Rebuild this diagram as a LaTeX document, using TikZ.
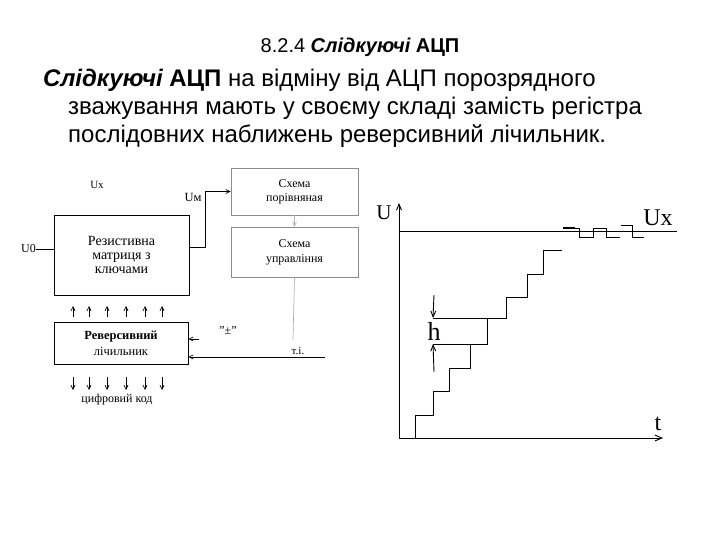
\documentclass[tikz,border=0pt]{standalone}
\usepackage{fontspec}
\setmainfont{Liberation Serif}
\newfontfamily\arial{Liberation Sans}
\usetikzlibrary{arrows.meta}
\begin{document}
\begin{tikzpicture}[x=1pt,y=-1pt,
  blk/.style={draw=black,line width=0.8pt,inner sep=0pt,align=center},
  gblk/.style={draw=black!45,line width=0.8pt,inner sep=0pt,align=center},
  lbl/.style={inner sep=0pt},
  wire/.style={line width=0.7pt},
  gwire/.style={line width=0.7pt,draw=black!30},
  tip/.style={-{Straight Barb[length=4pt,width=4pt]}},
  ln/.style={line width=0.9pt},
  para/.style={lbl,anchor=base west,font=\arial\fontsize{24}{28}\selectfont}
]
\useasboundingbox (0,0) rectangle (720,540);
% title and paragraph
\node[lbl,anchor=base,font=\arial\fontsize{20}{24}\selectfont] (title) at (360,53) {8.2.4 {\bfseries\itshape Слідкуючі} {\bfseries АЦП}};
\node[para] (p1) at (43,87) {{\bfseries\itshape Слідкуючі} {\bfseries АЦП} на відміну від АЦП порозрядного};
\node[para] (p2) at (68,115) {зважування мають у своєму складі замість регістра};
\node[para] (p3) at (68,143) {послідовних наближень реверсивний лічильник.};
% block diagram
\node[blk,minimum width=135pt,minimum height=80pt,font=\fontsize{14}{14}\selectfont] (mat) at (121.5,255) {Резистивна\\ матриця з\\ ключами};
\draw[line width=1.6pt] (mat.south west) -- (mat.south east);
\node[gblk,minimum width=127pt,minimum height=47pt,font=\fontsize{12}{14}\selectfont] (cmp) at (294.5,191.5) {Схема\\ порівняная};
\node[gblk,minimum width=127pt,minimum height=50pt,font=\fontsize{12}{15}\selectfont] (ctl) at (294.5,252) {Схема\\ управління};
\node[blk,minimum width=134pt,minimum height=42pt,font=\fontsize{12.5}{16}\selectfont] (cnt) at (121,343) {\textbf{Реверсивний}\\ лічильник};
\node[lbl,font=\fontsize{11}{12}\selectfont] (ux) at (97,185) {Ux};
\node[lbl,font=\fontsize{12.5}{14}\selectfont] (um) at (193,197) {Uм};
\node[lbl,anchor=east,font=\fontsize{12}{12}\selectfont] (u0) at (36,249) {U0};
\node[lbl,font=\fontsize{12}{12}\selectfont] (pm) at (228,331) {"±"};
\node[lbl,font=\fontsize{11}{12}\selectfont] (ti) at (298,351) {т.і.};
\node[lbl,font=\fontsize{12}{12}\selectfont] (code) at (117,400) {цифровий код};
\coordinate (mo) at (189,247);
\coordinate (bend) at (205,247);
\coordinate (ctlend) at (293,340);
\coordinate (tistart) at (325,357);
\coordinate (pmstart) at (199,339);
\draw[wire] (u0.east) -- (u0.east -| mat.west);
\draw[wire,tip] (mo) -- (bend) |- (cmp.west);
\draw[gwire,tip] (cmp.south) -- (ctl.north);
\draw[gwire] (ctl.south) -- (ctlend);
\draw[wire,tip] (tistart) -- (tistart -| cnt.east);
\draw[wire,tip] (pmstart) -- (pmstart -| cnt.east);
\foreach \x/\n in {73/a,89/b,107/c,126/d,145/e,162/f}{
  \coordinate (up\n1) at (\x,317);
  \coordinate (up\n2) at (\x,306);
  \draw[wire,tip] (up\n1) -- (up\n2);
  \coordinate (dn\n1) at (\x,377);
  \coordinate (dn\n2) at (\x,390);
  \draw[wire,tip] (dn\n1) -- (dn\n2);
}
% graph
\coordinate (O) at (399,438);
\coordinate (Utop) at (399,203);
\coordinate (tend) at (663,438);
\draw[ln,-{Straight Barb[length=6pt,width=5pt]}] (O) -- (Utop);
\draw[ln,-{Straight Barb[length=7pt,width=6pt]}] (O) -- (tend);
\node[lbl,font=\fontsize{21}{24}\selectfont] (Ulab) at (384,213) {U};
\node[lbl,font=\fontsize{24}{26}\selectfont] (tlab) at (658,424) {t};
\node[lbl,font=\fontsize{24}{26}\selectfont] (uxlab) at (658,218) {Ux};
\node[lbl,font=\fontsize{26}{28}\selectfont] (hlab) at (434,331) {h};
\coordinate (ux0) at (399,231);
\coordinate (ux1) at (677,231);
\draw[ln] (ux0) -- (ux1);
\draw[ln] (563,228) -- (579,228) -- (579,237) -- (593,237) -- (593,228) -- (606,228) -- (606,237) -- (620,237);
\draw[line width=1.5pt] (563,227.5) -- (575,227.5);
\draw[ln] (621,225) -- (632,225) -- (632,237) -- (644,237);
\draw[ln] (415,438) -- (415,415) -- (433,415) -- (433,391) -- (449,391) -- (449,368) -- (470,368) -- (470,344) -- (487,344) -- (487,318) -- (506,318) -- (506,297) -- (527,297) -- (527,274) -- (543,274) -- (543,250) -- (562,250);
\coordinate (h1) at (433,318);
\coordinate (h2) at (433,344);
\draw[ln] (h1) -- (487,318);
\draw[ln] (h2) -- (470,344);
\coordinate (ha) at (434,295);
\coordinate (hb) at (434,372);
\draw[ln,-{Straight Barb[length=6pt,width=5pt]}] (ha) -- (h1);
\draw[ln,-{Straight Barb[length=6pt,width=5pt]}] (hb) -- (h2);
\end{tikzpicture}
\end{document}
